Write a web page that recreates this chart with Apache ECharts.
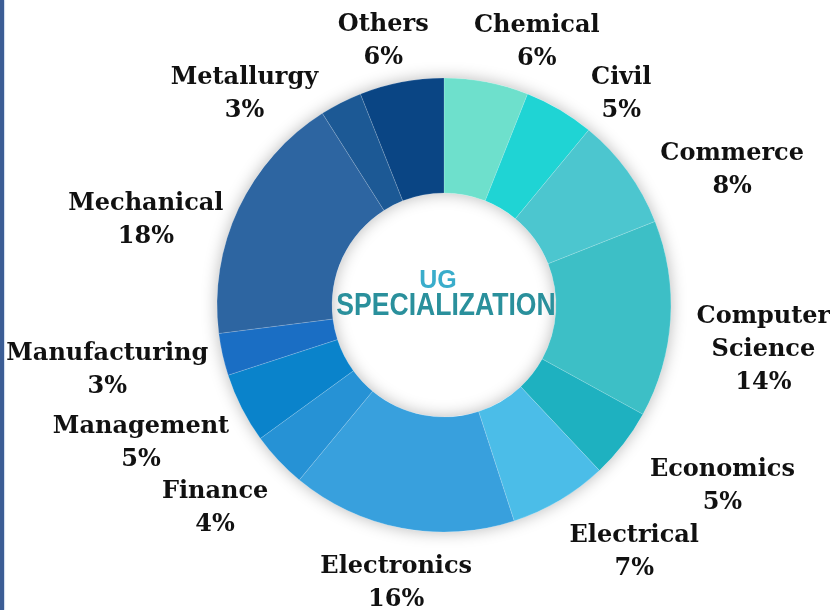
<!DOCTYPE html>
<html>
<head>
<meta charset="utf-8">
<script src="https://cdn.jsdelivr.net/npm/echarts@6/dist/echarts.min.js"></script>
<style>
  html, body { margin: 0; padding: 0; background: #ffffff; }
  #chart { position: absolute; left: 0; top: 0; width: 830px; height: 610px; }
  #edge { position: absolute; left: 0; top: 0; width: 4px; height: 610px; background: #3B5D95; z-index: 10; box-shadow: 1px 0 1px #cfdcee; }
</style>
</head>
<body>
<div id="chart"></div>
<div id="edge"></div>
<script>
// ---- data ----
const categories = ['Chemical', 'Civil', 'Commerce', 'Computer Science', 'Economics', 'Electrical',
  'Electronics', 'Finance', 'Management', 'Manufacturing', 'Mechanical', 'Metallurgy', 'Others'];
const shares = [6, 5, 8, 14, 5, 7, 16, 4, 5, 3, 18, 3, 6];
const centerTitle = ['UG', 'SPECIALIZATION'];

// ---- style ----
const sliceColors = ['#6EE0CC', '#1FD4D4', '#4CC6CF', '#3DBFC6', '#1EB1C0', '#4BBDE8',
  '#38A0DD', '#2692D5', '#0A83CB', '#1A6EC4', '#2D65A1', '#1C5995', '#0A4584'];
// label nudges (px) relative to the mid-angle anchor
const labelNudge = [[36, 35], [23, 50], [43, 43], [17, 26], [39, -4], [36, -14], [9, -19],
  [-8, -4], [-33, 1], [-41, -1], [-24, 44], [-62, 59], [-4, 34]];

const data = categories.map((c, i) => ({ name: c, value: shares[i], itemStyle: { color: sliceColors[i] } }));
const center = [444, 305];

const chart = echarts.init(document.getElementById('chart'), null, { renderer: 'canvas' });
chart.setOption({
  animation: false,
  backgroundColor: '#ffffff',
  series: [
    {
      type: 'pie', silent: true, z: 1,
      center: center, radius: [112, 227],
      label: { show: false }, labelLine: { show: false },
      data: [{ value: 1, itemStyle: { color: '#ffffff', shadowBlur: 16, shadowColor: 'rgba(0,0,0,0.28)' } }]
    },
    {
      type: 'pie', silent: true, z: 2,
      center: center, radius: [112, 227], startAngle: 90, clockwise: true,
      itemStyle: { borderColor: 'rgba(255,255,255,0.25)', borderWidth: 0.6 },
      label: { show: false }, labelLine: { show: false },
      data: data
    },
    {
      type: 'pie', silent: true, z: 3,
      center: center, radius: [280, 320], startAngle: 90, clockwise: true,
      itemStyle: { color: 'rgba(0,0,0,0)' },
      labelLine: { show: false },
      label: {
        show: true, position: 'inside', color: '#111111',
        formatter: p => '{n|' + p.name.replace(' ', '\n') + '}\n{p|' + p.value + '%}',
        rich: {
          n: { fontFamily: 'DejaVu Serif', fontWeight: 'bold', fontSize: 24, lineHeight: 33, color: '#111111', align: 'center' },
          p: { fontFamily: 'DejaVu Serif', fontWeight: 'bold', fontSize: 24, lineHeight: 33, color: '#111111', align: 'center' }
        }
      },
      labelLayout: function (params) {
        const r = params.labelRect;
        const n = labelNudge[params.dataIndex];
        return { x: r.x + r.width / 2 + n[0], y: r.y + r.height / 2 + n[1], align: 'center', verticalAlign: 'middle' };
      },
      data: categories.map((c, i) => ({ name: c, value: shares[i] }))
    }
  ],
  graphic: [
    {
      type: 'text', x: 438, y: 281, z: 10,
      style: { text: centerTitle[0], fill: '#3AADCB', font: 'bold 25px "Liberation Sans", Arial, sans-serif', align: 'center', verticalAlign: 'middle' }
    },
    {
      type: 'text', x: 446, y: 306, z: 10, scaleX: 0.83, originX: 0,
      style: { text: centerTitle[1], fill: '#2A909C', font: 'bold 32px "Liberation Sans", Arial, sans-serif', align: 'center', verticalAlign: 'middle' }
    }
  ]
});
</script>
</body>
</html>
